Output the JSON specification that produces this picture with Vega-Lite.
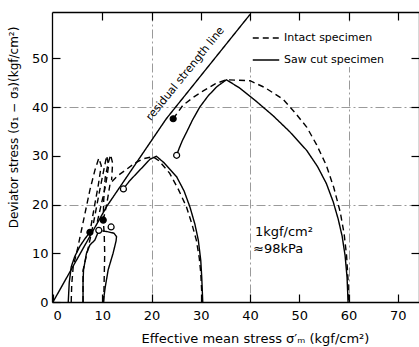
{
  "$schema": "https://vega.github.io/schema/vega-lite/v6.json",
  "width": 367,
  "height": 290,
  "autosize": {"type": "none"},
  "padding": {"left": 52, "top": 12, "right": 0, "bottom": 45},
  "background": "white",
  "config": {
    "view": {"stroke": null},
    "font": "DejaVu Sans",
    "axis": {
      "domainColor": "black",
      "domainWidth": 1.3,
      "tickColor": "black",
      "tickWidth": 1.2,
      "labelColor": "black",
      "labelFont": "DejaVu Sans",
      "labelFontSize": 13,
      "titleColor": "black",
      "titleFont": "DejaVu Sans",
      "titleFontWeight": "normal",
      "titleFontSize": 12
    }
  },
  "datasets": {
    "curves": [
      {"id": "R", "type": "Residual strength line", "i": 0, "x": 0, "y": 0},
      {"id": "R", "type": "Residual strength line", "i": 1, "x": 10.9, "y": 19.6},
      {"id": "R", "type": "Residual strength line", "i": 2, "x": 23.0, "y": 37.6},
      {"id": "R", "type": "Residual strength line", "i": 3, "x": 40.0, "y": 59.0},

      {"id": "I60", "type": "Intact specimen", "i": 0, "x": 24.4, "y": 37.6},
      {"id": "I60", "type": "Intact specimen", "i": 1, "x": 26.4, "y": 40.4},
      {"id": "I60", "type": "Intact specimen", "i": 2, "x": 28.5, "y": 42.0},
      {"id": "I60", "type": "Intact specimen", "i": 3, "x": 30.5, "y": 43.3},
      {"id": "I60", "type": "Intact specimen", "i": 4, "x": 33.0, "y": 44.8},
      {"id": "I60", "type": "Intact specimen", "i": 5, "x": 35.2, "y": 45.6},
      {"id": "I60", "type": "Intact specimen", "i": 6, "x": 40.0, "y": 45.4},
      {"id": "I60", "type": "Intact specimen", "i": 7, "x": 43.0, "y": 44.0},
      {"id": "I60", "type": "Intact specimen", "i": 8, "x": 46.7, "y": 41.6},
      {"id": "I60", "type": "Intact specimen", "i": 9, "x": 49.0, "y": 39.0},
      {"id": "I60", "type": "Intact specimen", "i": 10, "x": 51.5, "y": 35.9},
      {"id": "I60", "type": "Intact specimen", "i": 11, "x": 53.5, "y": 32.3},
      {"id": "I60", "type": "Intact specimen", "i": 12, "x": 55.5, "y": 28.0},
      {"id": "I60", "type": "Intact specimen", "i": 13, "x": 57.0, "y": 23.5},
      {"id": "I60", "type": "Intact specimen", "i": 14, "x": 58.3, "y": 18.5},
      {"id": "I60", "type": "Intact specimen", "i": 15, "x": 59.1, "y": 14.0},
      {"id": "I60", "type": "Intact specimen", "i": 16, "x": 59.6, "y": 9.5},
      {"id": "I60", "type": "Intact specimen", "i": 17, "x": 59.9, "y": 4.5},
      {"id": "I60", "type": "Intact specimen", "i": 18, "x": 60.0, "y": 0},

      {"id": "S60", "type": "Saw cut specimen", "i": 0, "x": 25.1, "y": 30.1},
      {"id": "S60", "type": "Saw cut specimen", "i": 1, "x": 25.6, "y": 31.5},
      {"id": "S60", "type": "Saw cut specimen", "i": 2, "x": 26.3, "y": 33.2},
      {"id": "S60", "type": "Saw cut specimen", "i": 3, "x": 27.1, "y": 34.8},
      {"id": "S60", "type": "Saw cut specimen", "i": 4, "x": 28.3, "y": 37.3},
      {"id": "S60", "type": "Saw cut specimen", "i": 5, "x": 29.8, "y": 40.0},
      {"id": "S60", "type": "Saw cut specimen", "i": 6, "x": 31.5, "y": 42.3},
      {"id": "S60", "type": "Saw cut specimen", "i": 7, "x": 33.3, "y": 44.2},
      {"id": "S60", "type": "Saw cut specimen", "i": 8, "x": 35.2, "y": 45.6},
      {"id": "S60", "type": "Saw cut specimen", "i": 9, "x": 37.9, "y": 43.9},
      {"id": "S60", "type": "Saw cut specimen", "i": 10, "x": 41.0, "y": 41.4},
      {"id": "S60", "type": "Saw cut specimen", "i": 11, "x": 44.7, "y": 38.2},
      {"id": "S60", "type": "Saw cut specimen", "i": 12, "x": 48.0, "y": 35.0},
      {"id": "S60", "type": "Saw cut specimen", "i": 13, "x": 51.5, "y": 31.1},
      {"id": "S60", "type": "Saw cut specimen", "i": 14, "x": 53.7, "y": 27.8},
      {"id": "S60", "type": "Saw cut specimen", "i": 15, "x": 55.5, "y": 24.3},
      {"id": "S60", "type": "Saw cut specimen", "i": 16, "x": 56.9, "y": 20.5},
      {"id": "S60", "type": "Saw cut specimen", "i": 17, "x": 57.9, "y": 17.0},
      {"id": "S60", "type": "Saw cut specimen", "i": 18, "x": 58.7, "y": 13.5},
      {"id": "S60", "type": "Saw cut specimen", "i": 19, "x": 59.3, "y": 9.5},
      {"id": "S60", "type": "Saw cut specimen", "i": 20, "x": 59.7, "y": 5.0},
      {"id": "S60", "type": "Saw cut specimen", "i": 21, "x": 59.9, "y": 0},

      {"id": "S30", "type": "Saw cut specimen", "i": 0, "x": 14.3, "y": 23.2},
      {"id": "S30", "type": "Saw cut specimen", "i": 1, "x": 15.5, "y": 24.8},
      {"id": "S30", "type": "Saw cut specimen", "i": 2, "x": 17.0, "y": 26.4},
      {"id": "S30", "type": "Saw cut specimen", "i": 3, "x": 18.5, "y": 28.0},
      {"id": "S30", "type": "Saw cut specimen", "i": 4, "x": 19.7, "y": 29.3},
      {"id": "S30", "type": "Saw cut specimen", "i": 5, "x": 21.0, "y": 29.9},
      {"id": "S30", "type": "Saw cut specimen", "i": 6, "x": 22.5, "y": 28.6},
      {"id": "S30", "type": "Saw cut specimen", "i": 7, "x": 25.1, "y": 25.7},
      {"id": "S30", "type": "Saw cut specimen", "i": 8, "x": 26.6, "y": 22.8},
      {"id": "S30", "type": "Saw cut specimen", "i": 9, "x": 27.8, "y": 19.5},
      {"id": "S30", "type": "Saw cut specimen", "i": 10, "x": 28.8, "y": 16.0},
      {"id": "S30", "type": "Saw cut specimen", "i": 11, "x": 29.5, "y": 12.7},
      {"id": "S30", "type": "Saw cut specimen", "i": 12, "x": 30.0, "y": 8.5},
      {"id": "S30", "type": "Saw cut specimen", "i": 13, "x": 30.2, "y": 5.0},
      {"id": "S30", "type": "Saw cut specimen", "i": 14, "x": 30.4, "y": 0},

      {"id": "I30", "type": "Intact specimen", "i": 0, "x": 10.2, "y": 16.8},
      {"id": "I30", "type": "Intact specimen", "i": 1, "x": 10.9, "y": 20.0},
      {"id": "I30", "type": "Intact specimen", "i": 2, "x": 11.6, "y": 24.3},
      {"id": "I30", "type": "Intact specimen", "i": 3, "x": 13.0, "y": 25.8},
      {"id": "I30", "type": "Intact specimen", "i": 4, "x": 14.9, "y": 27.2},
      {"id": "I30", "type": "Intact specimen", "i": 5, "x": 16.6, "y": 28.5},
      {"id": "I30", "type": "Intact specimen", "i": 6, "x": 18.3, "y": 29.4},
      {"id": "I30", "type": "Intact specimen", "i": 7, "x": 20.3, "y": 29.8},
      {"id": "I30", "type": "Intact specimen", "i": 8, "x": 21.5, "y": 29.0},
      {"id": "I30", "type": "Intact specimen", "i": 9, "x": 23.7, "y": 26.4},
      {"id": "I30", "type": "Intact specimen", "i": 10, "x": 25.5, "y": 23.0},
      {"id": "I30", "type": "Intact specimen", "i": 11, "x": 27.1, "y": 19.5},
      {"id": "I30", "type": "Intact specimen", "i": 12, "x": 28.2, "y": 16.0},
      {"id": "I30", "type": "Intact specimen", "i": 13, "x": 29.1, "y": 12.7},
      {"id": "I30", "type": "Intact specimen", "i": 14, "x": 29.7, "y": 9.0},
      {"id": "I30", "type": "Intact specimen", "i": 15, "x": 30.0, "y": 5.9},
      {"id": "I30", "type": "Intact specimen", "i": 16, "x": 30.3, "y": 0},

      {"id": "I10", "type": "Intact specimen", "i": 0, "x": 10.3, "y": 0},
      {"id": "I10", "type": "Intact specimen", "i": 1, "x": 10.4, "y": 5.0},
      {"id": "I10", "type": "Intact specimen", "i": 2, "x": 10.5, "y": 10.0},
      {"id": "I10", "type": "Intact specimen", "i": 3, "x": 10.4, "y": 14.0},
      {"id": "I10", "type": "Intact specimen", "i": 4, "x": 10.2, "y": 16.8},
      {"id": "I10", "type": "Intact specimen", "i": 5, "x": 10.3, "y": 20.9},
      {"id": "I10", "type": "Intact specimen", "i": 6, "x": 10.6, "y": 25.5},
      {"id": "I10", "type": "Intact specimen", "i": 7, "x": 11.2, "y": 28.5},
      {"id": "I10", "type": "Intact specimen", "i": 8, "x": 11.7, "y": 30.2},
      {"id": "I10", "type": "Intact specimen", "i": 9, "x": 12.1, "y": 28.5},
      {"id": "I10", "type": "Intact specimen", "i": 10, "x": 11.9, "y": 25.0},

      {"id": "I6", "type": "Intact specimen", "i": 0, "x": 6.1, "y": 0},
      {"id": "I6", "type": "Intact specimen", "i": 1, "x": 6.1, "y": 6.5},
      {"id": "I6", "type": "Intact specimen", "i": 2, "x": 7.2, "y": 11.3},
      {"id": "I6", "type": "Intact specimen", "i": 3, "x": 8.2, "y": 16.1},
      {"id": "I6", "type": "Intact specimen", "i": 4, "x": 9.5, "y": 23.0},
      {"id": "I6", "type": "Intact specimen", "i": 5, "x": 10.4, "y": 27.5},
      {"id": "I6", "type": "Intact specimen", "i": 6, "x": 10.9, "y": 30.0},
      {"id": "I6", "type": "Intact specimen", "i": 7, "x": 11.3, "y": 28.0},
      {"id": "I6", "type": "Intact specimen", "i": 8, "x": 10.7, "y": 24.0},
      {"id": "I6", "type": "Intact specimen", "i": 9, "x": 9.8, "y": 20.0},
      {"id": "I6", "type": "Intact specimen", "i": 10, "x": 8.9, "y": 16.0},

      {"id": "I3", "type": "Intact specimen", "i": 0, "x": 3.7, "y": 0},
      {"id": "I3", "type": "Intact specimen", "i": 1, "x": 3.8, "y": 3.5},
      {"id": "I3", "type": "Intact specimen", "i": 2, "x": 4.1, "y": 7.2},
      {"id": "I3", "type": "Intact specimen", "i": 3, "x": 5.0, "y": 11.0},
      {"id": "I3", "type": "Intact specimen", "i": 4, "x": 6.5, "y": 18.2},
      {"id": "I3", "type": "Intact specimen", "i": 5, "x": 7.5, "y": 23.0},
      {"id": "I3", "type": "Intact specimen", "i": 6, "x": 8.5, "y": 27.0},
      {"id": "I3", "type": "Intact specimen", "i": 7, "x": 9.3, "y": 29.5},
      {"id": "I3", "type": "Intact specimen", "i": 8, "x": 9.8, "y": 28.0},
      {"id": "I3", "type": "Intact specimen", "i": 9, "x": 9.2, "y": 24.0},
      {"id": "I3", "type": "Intact specimen", "i": 10, "x": 8.3, "y": 19.0},
      {"id": "I3", "type": "Intact specimen", "i": 11, "x": 7.5, "y": 14.3},

      {"id": "S3", "type": "Saw cut specimen", "i": 0, "x": 3.1, "y": 0},
      {"id": "S3", "type": "Saw cut specimen", "i": 1, "x": 3.3, "y": 4.0},
      {"id": "S3", "type": "Saw cut specimen", "i": 2, "x": 3.7, "y": 7.2},
      {"id": "S3", "type": "Saw cut specimen", "i": 3, "x": 4.4, "y": 9.3},
      {"id": "S3", "type": "Saw cut specimen", "i": 4, "x": 5.5, "y": 11.5},
      {"id": "S3", "type": "Saw cut specimen", "i": 5, "x": 6.5, "y": 13.0},
      {"id": "S3", "type": "Saw cut specimen", "i": 6, "x": 7.5, "y": 14.3},

      {"id": "S6", "type": "Saw cut specimen", "i": 0, "x": 6.1, "y": 0},
      {"id": "S6", "type": "Saw cut specimen", "i": 1, "x": 6.1, "y": 4.0},
      {"id": "S6", "type": "Saw cut specimen", "i": 2, "x": 6.2, "y": 6.6},
      {"id": "S6", "type": "Saw cut specimen", "i": 3, "x": 6.8, "y": 10.0},
      {"id": "S6", "type": "Saw cut specimen", "i": 4, "x": 7.5, "y": 11.7},
      {"id": "S6", "type": "Saw cut specimen", "i": 5, "x": 8.5, "y": 12.7},
      {"id": "S6", "type": "Saw cut specimen", "i": 6, "x": 9.2, "y": 14.4},

      {"id": "S10", "type": "Saw cut specimen", "i": 0, "x": 10.2, "y": 0},
      {"id": "S10", "type": "Saw cut specimen", "i": 1, "x": 10.6, "y": 3.0},
      {"id": "S10", "type": "Saw cut specimen", "i": 2, "x": 11.2, "y": 6.6},
      {"id": "S10", "type": "Saw cut specimen", "i": 3, "x": 12.2, "y": 10.0},
      {"id": "S10", "type": "Saw cut specimen", "i": 4, "x": 12.8, "y": 12.5},
      {"id": "S10", "type": "Saw cut specimen", "i": 5, "x": 12.9, "y": 13.4},
      {"id": "S10", "type": "Saw cut specimen", "i": 6, "x": 12.4, "y": 14.1},
      {"id": "S10", "type": "Saw cut specimen", "i": 7, "x": 11.2, "y": 14.4},
      {"id": "S10", "type": "Saw cut specimen", "i": 8, "x": 10.0, "y": 14.6}
    ],
    "markers": [
      {"kind": "open", "x": 25.1, "y": 30.1},
      {"kind": "open", "x": 14.3, "y": 23.2},
      {"kind": "open", "x": 11.8, "y": 15.4},
      {"kind": "open", "x": 9.3, "y": 14.7},
      {"kind": "filled", "x": 24.4, "y": 37.6},
      {"kind": "filled", "x": 10.2, "y": 16.8},
      {"kind": "filled", "x": 7.5, "y": 14.3}
    ],
    "notes": [
      {"text": "residual strength line", "x": 26.9, "y": 46.8, "kind": "line"},
      {"text": "1kgf/cm²", "x": 41.0, "y": 13.5, "kind": "unit"},
      {"text": "≈98kPa", "x": 40.6, "y": 10.0, "kind": "unit"}
    ]
  },
  "layer": [
    {
      "data": {"name": "curves"},
      "mark": {"type": "line", "color": "black", "strokeWidth": 1.4},
      "encoding": {
        "x": {
          "field": "x", "type": "quantitative",
          "scale": {"domain": [-0.2, 74.3], "nice": false, "zero": false},
          "axis": {
            "orient": "bottom",
            "title": "Effective  mean  stress  σ′ₘ  (kgf/cm²)",
            "titleX": 203, "titleY": 40, "titleBaseline": "alphabetic", "titleFontSize": 13,
            "values": [0, 10, 20, 30, 40, 50, 60, 70],
            "tickSize": -8, "labelPadding": 15,
            "grid": true, "gridColor": "#9a9a9a", "gridDash": [9, 3, 2, 3], "gridWidth": 1,
            "gridOpacity": {"condition": {"test": "datum.value % 20 === 0 && datum.value > 0", "value": 1}, "value": 0}
          }
        },
        "y": {
          "field": "y", "type": "quantitative",
          "scale": {"domain": [0, 59.5], "nice": false},
          "axis": {
            "orient": "left",
            "title": "Deviator  stress  (σ₁ − σ₃)(kgf/cm²)",
            "titleX": -39, "titleY": 115, "titleAlign": "center", "titleAngle": -90, "titleBaseline": "middle",
            "values": [0, 10, 20, 30, 40, 50],
            "tickSize": -8, "labelPadding": 12,
            "grid": true, "gridColor": "#9a9a9a", "gridDash": [9, 3, 2, 3], "gridWidth": 1,
            "gridOpacity": {"condition": {"test": "datum.value % 20 === 0 && datum.value > 0", "value": 1}, "value": 0}
          }
        },
        "detail": {"field": "id"},
        "order": {"field": "i", "type": "quantitative"},
        "strokeDash": {
          "field": "type", "type": "nominal",
          "scale": {"domain": ["Intact specimen", "Saw cut specimen", "Residual strength line"], "range": [[6, 4], [1, 0], [1, 0]]},
          "legend": {
            "values": ["Intact specimen", "Saw cut specimen"],
            "title": null,
            "orient": "none",
            "legendX": 198, "legendY": 10,
            "symbolType": "stroke", "symbolSize": 700, "symbolStrokeWidth": 1.4, "symbolStrokeColor": "black",
            "labelFont": "DejaVu Sans", "labelFontSize": 11, "labelColor": "black",
            "rowPadding": 3, "fillColor": "white", "padding": 2
          }
        }
      }
    },
    {
      "data": {"name": "markers"},
      "mark": {"type": "point", "shape": "circle", "stroke": "black", "strokeWidth": 1.2, "opacity": 1, "size": 36},
      "encoding": {
        "x": {"field": "x", "type": "quantitative",
          "axis": {"orient": "top", "title": null, "labels": false, "grid": false, "values": [10, 20, 30, 40, 50, 60, 70], "tickSize": -8}},
        "y": {"field": "y", "type": "quantitative",
          "axis": {"orient": "right", "title": null, "labels": false, "grid": false, "values": [10, 20, 30, 40, 50], "tickSize": -8}},
        "fill": {"field": "kind", "type": "nominal", "scale": {"domain": ["open", "filled"], "range": ["white", "black"]}, "legend": null}
      }
    },
    {
      "data": {"name": "notes"},
      "transform": [{"filter": "datum.kind === 'line'"}],
      "mark": {"type": "text", "angle": -51, "fontSize": 11, "font": "DejaVu Sans", "color": "black", "align": "center", "baseline": "middle"},
      "encoding": {
        "x": {"field": "x", "type": "quantitative", "axis": null},
        "y": {"field": "y", "type": "quantitative", "axis": null},
        "text": {"field": "text"}
      }
    },
    {
      "data": {"name": "notes"},
      "transform": [{"filter": "datum.kind === 'unit'"}],
      "mark": {"type": "text", "fontSize": 13, "font": "DejaVu Sans", "color": "black", "align": "left", "baseline": "alphabetic"},
      "encoding": {
        "x": {"field": "x", "type": "quantitative", "axis": null},
        "y": {"field": "y", "type": "quantitative", "axis": null},
        "text": {"field": "text"}
      }
    }
  ],
  "resolve": {"axis": {"x": "independent", "y": "independent"}}
}
